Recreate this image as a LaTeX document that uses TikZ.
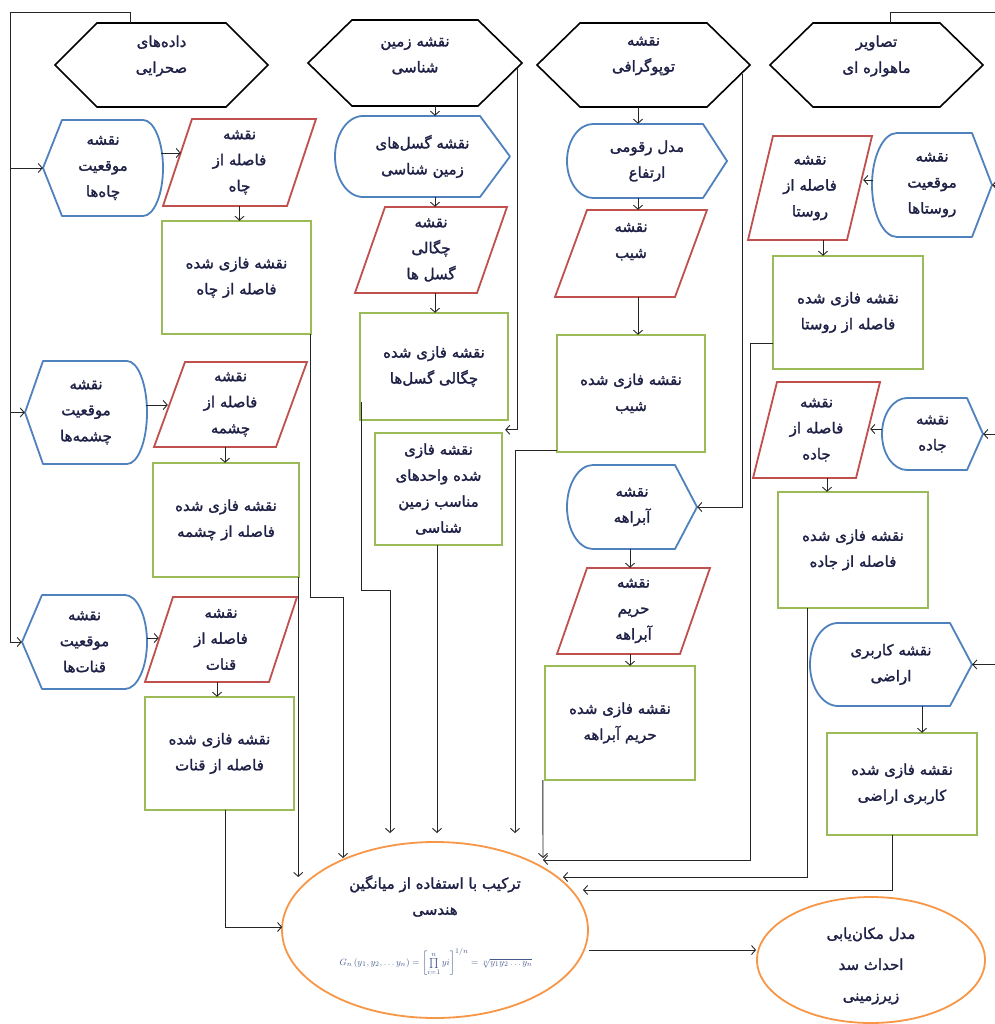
\documentclass[tikz,border=0pt]{standalone}
\usepackage{fontspec}
\usetikzlibrary{shapes.geometric,arrows.meta,calc}
\newfontfamily\fa[Script=Arabic,FakeBold=1.6]{DejaVu Sans}
\TeXXeTstate=1
\newcommand\R[1]{\beginR #1\endR}
\definecolor{bluec}{RGB}{79,129,189}
\definecolor{redc}{RGB}{192,80,77}
\definecolor{greenc}{RGB}{155,187,89}
\definecolor{orangec}{RGB}{247,150,70}
\definecolor{textc}{RGB}{30,32,70}
\definecolor{formc}{RGB}{70,90,140}
\tikzset{
  bnd/.style={inner sep=0pt, align=center, text=textc, font={\fa\fontsize{15}{26}\selectfont}},
  hexst/.style={draw=black, line width=1.6pt, line join=miter},
  bluest/.style={draw=bluec, line width=1.8pt, line join=round},
  redst/.style={draw=redc, line width=1.8pt},
  greenst/.style={draw=greenc, line width=1.8pt},
  orst/.style={draw=orangec, line width=1.8pt},
  conn/.style={draw=black!85, line width=0.9pt},
  arr/.style={conn, -{Straight Barb[length=4pt,width=9pt]}},
}
% hexagon: name,x1,y1,x2,y2,inset,text
\newcommand\hexa[7]{%
  \draw[hexst] (#2,{(#3+#5)/2}) -- ({#2+#6},#3) -- ({#4-#6},#3) -- (#4,{(#3+#5)/2}) -- ({#4-#6},#5) -- ({#2+#6},#5) -- cycle;
  \node[bnd, minimum width={#4-#2}, minimum height={#5-#3}] (#1) at ({(#2+#4)/2},{(#3+#5)/2}) {};
  \node[bnd] (#1-t) at ({(#2+#4)/2},56) {#7};}
% display shape rounded left, pointed right: name,x1,y1,x2,y2,r,d,text
\newcommand\bluer[8]{%
  \draw[bluest] ({#2+#6},#3) -- ({#4-#7},#3) -- (#4,{(#3+#5)/2}) -- ({#4-#7},#5) -- ({#2+#6},#5)
    .. controls ({#2+0.45*#6},#5) and (#2,{(#3+#5)/2+0.275*(#5-#3)}) .. (#2,{(#3+#5)/2})
    .. controls (#2,{(#3+#5)/2-0.275*(#5-#3)}) and ({#2+0.45*#6},#3) .. ({#2+#6},#3) -- cycle;
  \node[bnd, minimum width={#4-#2}, minimum height={#5-#3}] (#1) at ({(#2+#4)/2},{(#3+#5)/2}) {#8};}
% display shape pointed left, rounded right
\newcommand\bluel[8]{%
  \draw[bluest] ({#2+#7},#3) -- ({#4-#6},#3)
    .. controls ({#4-0.45*#6},#3) and (#4,{(#3+#5)/2-0.275*(#5-#3)}) .. (#4,{(#3+#5)/2})
    .. controls (#4,{(#3+#5)/2+0.275*(#5-#3)}) and ({#4-0.45*#6},#5) .. ({#4-#6},#5)
    -- ({#2+#7},#5) -- (#2,{(#3+#5)/2}) -- cycle;
  \node[bnd, minimum width={#4-#2}, minimum height={#5-#3}] (#1) at ({(#2+#4)/2},{(#3+#5)/2}) {#8};}
% parallelogram: name,x1,y1,x2,y2,slant,text
\newcommand\para[7]{%
  \draw[redst] (#2,#5) -- ({#2+#6},#3) -- (#4,#3) -- ({#4-#6},#5) -- cycle;
  \node[bnd, minimum width={#4-#2}, minimum height={#5-#3}] (#1) at ({(#2+#4)/2},{(#3+#5)/2}) {#7};}
% green box: name,x1,y1,x2,y2,text
\newcommand\grn[6]{%
  \draw[greenst] (#2,#3) rectangle (#4,#5);
  \node[bnd, minimum width={#4-#2}, minimum height={#5-#3}] (#1) at ({(#2+#4)/2},{(#3+#5)/2}) {#6};}
\begin{document}
\begin{tikzpicture}[x=1pt,y=-1pt]
\fill[white] (0,0) rectangle (994,1024);
\useasboundingbox (0,0) rectangle (994,1024);
% top hexagons
\hexa{h1}{55}{23}{268}{107}{42}{\R{داده‌های}\\\R{صحرایی}}
\hexa{h2}{308}{20}{522}{106}{44}{\R{نقشه زمین}\\\R{شناسی}}
\hexa{h3}{537}{23}{750}{107}{43}{\R{نقشه}\\\R{توپوگرافی}}
\hexa{h4}{770}{23}{983}{107}{43}{\R{تصاویر}\\\R{ماهواره ای}}
% left column
\bluel{b1}{43}{120}{163}{216}{20}{19}{\R{نقشه}\\\R{موقعیت}\\\R{چاه‌ها}}
\para{p1}{163}{119}{316}{206}{29}{\R{نقشه}\\\R{فاصله از}\\\R{چاه}}
\grn{g1}{162}{221}{311}{334}{\R{نقشه فازی شده}\\\R{فاصله از چاه}}
\bluel{b2}{25}{361}{147}{464}{20}{18}{\R{نقشه}\\\R{موقعیت}\\\R{چشمه‌ها}}
\para{p2}{154}{362}{307}{447}{31}{\R{نقشه}\\\R{فاصله از}\\\R{چشمه}}
\grn{g2}{153}{463}{299}{577}{\R{نقشه فازی شده}\\\R{فاصله از چشمه}}
\bluel{b3}{22}{595}{147}{689}{22}{20}{\R{نقشه}\\\R{موقعیت}\\\R{قنات‌ها}}
\para{p3}{145}{597}{297}{682}{28}{\R{نقشه}\\\R{فاصله از}\\\R{قنات}}
\grn{g3}{145}{697}{294}{810}{\R{نقشه فازی شده}\\\R{فاصله از قنات}}
% geology column
\bluer{bg}{335}{116}{510}{197}{28}{30}{\R{نقشه گسل‌های}\\\R{زمین شناسی}}
\para{pg}{355}{207}{507}{293}{30}{\R{نقشه}\\\R{چگالی}\\\R{گسل ها}}
\grn{gg}{360}{313}{508}{420}{\R{نقشه فازی شده}\\\R{چگالی گسل‌ها}}
\grn{gw}{375}{433}{502}{545}{\R{نقشه فازی}\\\R{شده واحدهای}\\\R{مناسب زمین}\\\R{شناسی}}
% topography column
\bluer{bd}{567}{124}{727}{198}{26}{24}{\R{مدل رقومی}\\\R{ارتفاع}}
\para{ps}{555}{210}{707}{297}{32}{\R{نقشه}\\\R{شیب}\\\mbox{}}
\grn{gs}{557}{335}{705}{452}{\R{نقشه فازی شده}\\\R{شیب}}
\bluer{ba}{567}{465}{697}{549}{26}{22}{\R{نقشه}\\\R{آبراهه}}
\para{pa}{557}{568}{710}{654}{30}{\R{نقشه}\\\R{حریم}\\\R{آبراهه}}
\grn{ga}{545}{666}{695}{780}{\R{نقشه فازی شده}\\\R{حریم آبراهه}}
% satellite column
\para{pr}{748}{136}{872}{240}{25}{\R{نقشه}\\\R{فاصله از}\\\R{روستا}}
\bluer{br}{872}{133}{992}{237}{25}{20}{\R{نقشه}\\\R{موقعیت}\\\R{روستاها}}
\grn{gr}{773}{256}{923}{369}{\R{نقشه فازی شده}\\\R{فاصله از روستا}}
\para{pj}{753}{382}{880}{478}{24}{\R{نقشه}\\\R{فاصله از}\\\R{جاده}}
\bluer{bj}{882}{398}{983}{470}{25}{16}{\R{نقشه}\\\R{جاده}}
\grn{gj}{778}{492}{928}{608}{\R{نقشه فازی شده}\\\R{فاصله از جاده}}
\bluer{bk}{810}{623}{972}{706}{28}{22}{\R{نقشه کاربری}\\\R{اراضی}}
\grn{gk}{827}{733}{977}{835}{\R{نقشه فازی شده}\\\R{کاربری اراضی}}
% ellipses
\node[ellipse, orst, minimum width=306pt, minimum height=176pt, inner sep=0pt] (e1) at (435,930) {};
\node[bnd] (e1-t) at (435,896) {\R{ترکیب با استفاده از میانگین}\\\R{هندسی}};
\node[inner sep=0pt, text=formc, font=\fontsize{9.5}{11}\selectfont] (e1-f) at (436,962)
  {$G_n\left(y_1,y_2,\dots y_n\right)=\left[\prod\limits_{i=1}^{n} yi\right]^{1/n}=\sqrt[n]{y_1y_2\dots y_n}$};
\node[ellipse, orst, minimum width=228pt, minimum height=126pt, inner sep=0pt] (e2) at (871,960) {};
\node[bnd, font={\fa\fontsize{15}{31}\selectfont}] (e2-t) at (871,966) {\R{مدل مکان‌یابی}\\\R{احداث سد}\\\R{زیرزمینی}};
% ---- connectors ----
\coordinate (tl) at (10,12);
\draw[arr] ($(h1.north)+(-31.5,0)$) |- (tl) |- (b3.west);
\draw[arr] (tl |- b1.west) -- (b1.west);
\draw[arr] (tl |- b2.west) -- (b2.west);
\coordinate (tr) at (1002,12);
\draw[arr] ($(h4.north)+(13.5,0)$) |- (tr) |- (bk.east);
\draw[arr] (tr |- br.east) -- (br.east);
\draw[arr] (tr |- bj.east) -- (bj.east);
% geology
\draw[arr] ($(h2.south)+(20,0)$) -- ($(bg.north)+(12.5,0)$);
\draw[arr] ($(bg.south)+(12.5,0)$) -- ($(pg.north)+(4,0)$);
\draw[arr] ($(pg.south)+(4,0)$) -- ($(gg.north)+(1,0)$);
\coordinate (h2r) at ($(h2.east)+(-5,5)$);
\draw[arr] (h2r) |- ($(gw.north east)+(3,-3)$);
% topography
\draw[arr] ($(h3.south)+(-5.5,0)$) -- ($(bd.north)+(-9,0)$);
\draw[arr] ($(bd.south)+(-9,0)$) -- ($(ps.north)+(7,0)$);
\draw[arr] ($(ps.south)+(7,0)$) -- ($(gs.north)+(7,0)$);
\coordinate (h3r) at ($(h3.east)+(-8,9)$);
\draw[arr] (h3r) |- (ba.east);
\draw[arr] ($(ba.south)+(-2,0)$) -- ($(pa.north)+(-3.5,0)$);
\draw[arr] ($(pa.south)+(-3.5,0)$) -- ($(ga.north)+(10,0)$);
% satellite
\draw[arr] ($(br.west)+(1,-5)$) -- ($(pr.east)+(-9,-8)$);
\draw[arr] ($(pr.south)+(13,0)$) -- ($(gr.north)+(-25,0)$);
\draw[arr] ($(bj.west)+(0,-5)$) -- ($(pj.east)+(-10,-1)$);
\draw[arr] ($(pj.south)+(10.5,0)$) -- ($(gj.north)+(-26,0)$);
\draw[arr] ($(bk.south)+(31,0)$) -- ($(gk.north)+(20,0)$);
% left column
\draw[arr] ($(b1.east)+(-2,-15)$) -- ($(p1.west)+(18,-9.5)$);
\draw[arr] (p1.south) -- ($(g1.north)+(3,0)$);
\draw[arr] ($(b2.east)+(-1,-7.5)$) -- ($(p2.west)+(14,0.5)$);
\draw[arr] ($(p2.south)+(-5.5,0)$) -- ($(g2.north)+(-1,0)$);
\draw[arr] ($(b3.east)+(0,-4)$) -- ($(p3.west)+(14,-1.5)$);
\draw[arr] ($(p3.south)+(-4,0)$) -- ($(g3.north)+(-2.5,0)$);
% into the combination ellipse
\draw[arr] ($(g3.south)+(5.5,0)$) |- ($(e1.west)+(1,-3)$);
\draw[arr] ($(g2.south east)+(-1,0)$) -- ($(g2.south east |- e1.center)+(-1,-53)$);
\draw[arr] ($(g1.south east)+(-1,0)$) |- ($(e1.center)+(-92,-333)$) -- ($(e1.center)+(-92,-72)$);
\draw[arr] ($(gg.south west)+(2,-18)$) |- ($(e1.center)+(-45,-340)$) -- ($(e1.center)+(-45,-97)$);
\draw[arr] ($(gw.south)+(-1.5,0)$) -- ($(e1.center)+(2,-97)$);
\draw[arr] ($(gs.south west)+(0,-2)$) -| ($(e1.center)+(80,-97)$);
\draw[arr] ($(ga.south west)+(-2,0)$) -- ($(e1.center)+(108,-72)$);
\draw[arr] ($(gr.west)+(0,30.5)$) -| ($(e1.center)+(315,-70)$) -- ($(e1.center)+(108,-70)$);
\draw[arr] ($(gj.south)+(-46,0)$) |- ($(e1.center)+(128,-53)$);
\draw[arr] ($(gk.south)+(-10,0)$) |- ($(e1.center)+(148,-40)$);
\draw[arr] ($(e1.east)+(0,20)$) -- ($(e2.west)+(0,-10)$);
\end{tikzpicture}
\end{document}
